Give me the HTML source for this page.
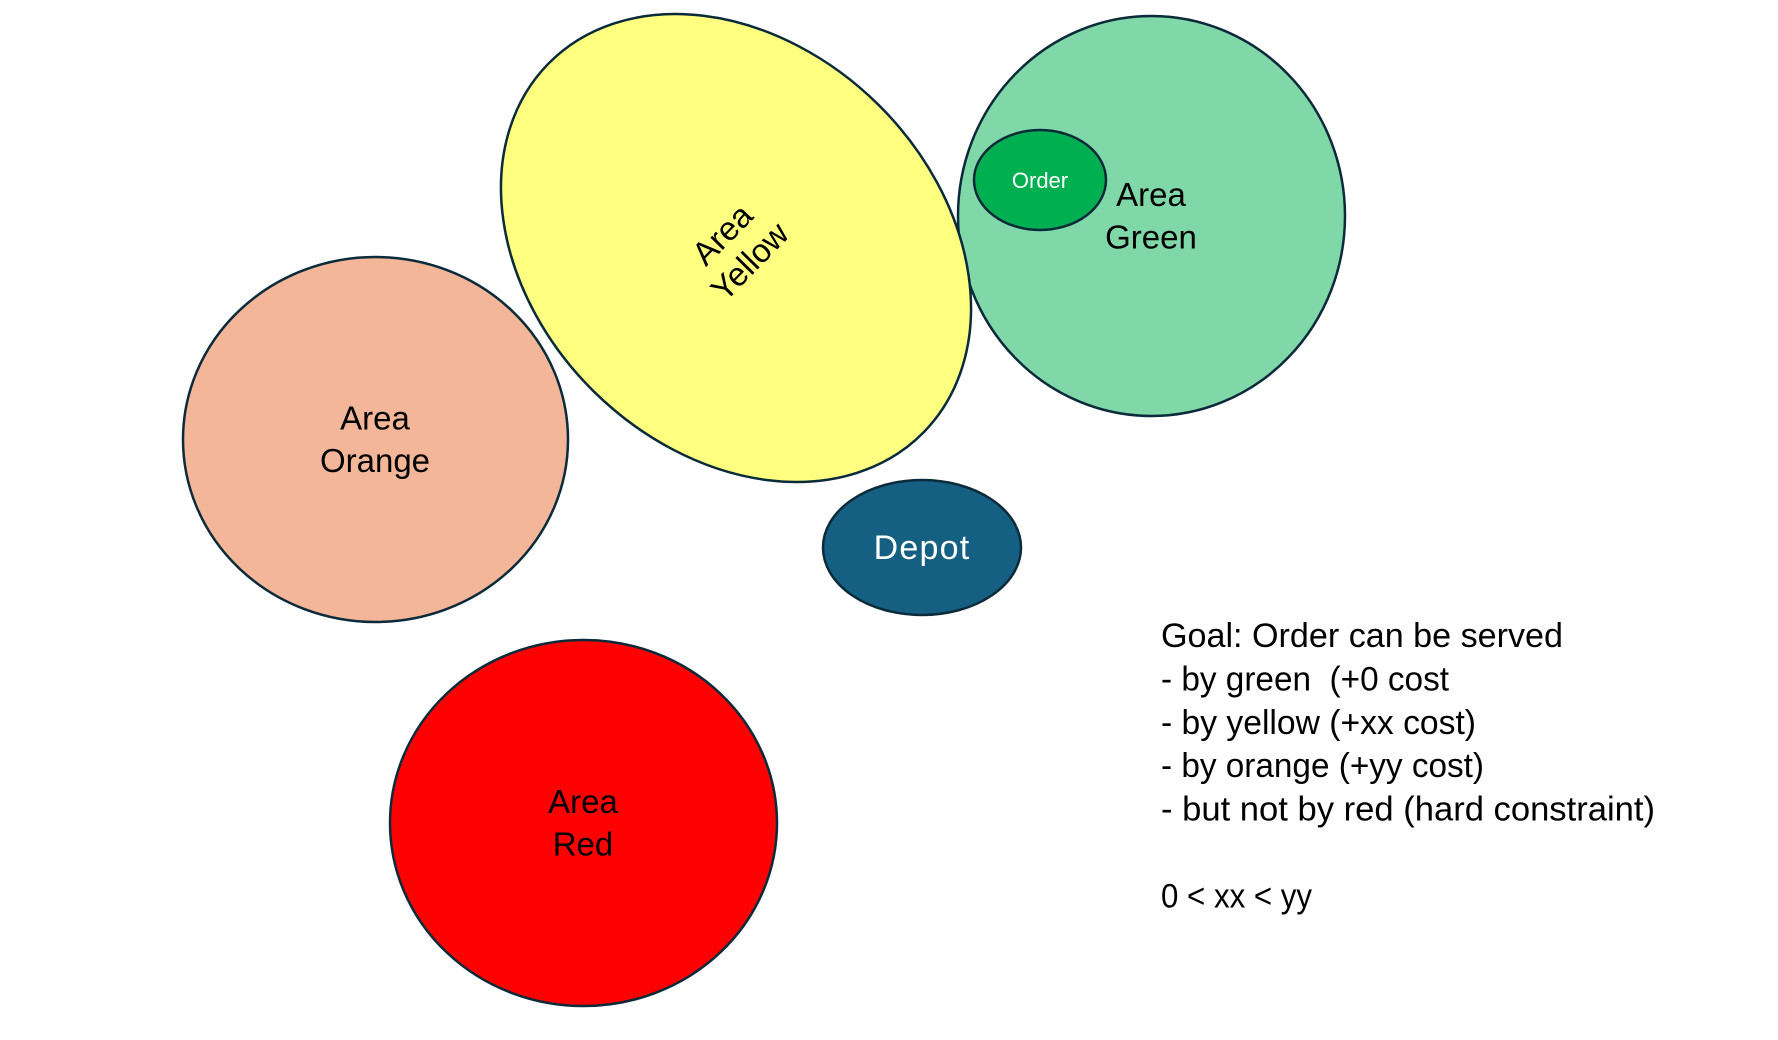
<!DOCTYPE html>
<html>
<head>
<meta charset="utf-8">
<style>
  html, body { margin: 0; padding: 0; background: #ffffff; }
  body { width: 1778px; height: 1040px; overflow: hidden; }
  svg { display: block; }
  text { font-family: "Liberation Sans", Arial, sans-serif; }
</style>
</head>
<body>
<svg width="1778" height="1040" viewBox="0 0 1778 1040" xmlns="http://www.w3.org/2000/svg">
  <rect x="0" y="0" width="1778" height="1040" fill="#ffffff"/>

  <!-- Area Green -->
  <ellipse cx="1151.5" cy="216" rx="193.5" ry="200" fill="#80D8A8" stroke="#0B2A3A" stroke-width="2.5"/>
  <text x="1151" y="206" font-size="33" fill="#000" text-anchor="middle">Area</text>
  <text x="1151" y="248.5" font-size="33" fill="#000" text-anchor="middle">Green</text>

  <!-- Order -->
  <ellipse cx="1040" cy="180" rx="66" ry="50" fill="#00B050" stroke="#0B2A3A" stroke-width="2.5"/>
  <text x="1040" y="188" font-size="22" fill="#ffffff" text-anchor="middle">Order</text>

  <!-- Area Yellow (rotated) -->
  <g transform="translate(736 248) rotate(44.5)">
    <ellipse cx="0" cy="0" rx="263" ry="202" fill="#FFFF80" stroke="#0B2A3A" stroke-width="2.5"/>
  </g>
  <g transform="translate(736 248) rotate(-45.5)">
    <text x="0" y="-8" font-size="33" fill="#000" text-anchor="middle">Area</text>
    <text x="0" y="30.5" font-size="33" fill="#000" text-anchor="middle">Yellow</text>
  </g>

  <!-- Area Orange -->
  <ellipse cx="375.5" cy="439.5" rx="192.5" ry="182.5" fill="#F3B698" stroke="#0B2A3A" stroke-width="2.5"/>
  <text x="375" y="429.5" font-size="33" fill="#000" text-anchor="middle">Area</text>
  <text x="375" y="472" font-size="33" fill="#000" text-anchor="middle">Orange</text>

  <!-- Depot -->
  <ellipse cx="922" cy="547.5" rx="99" ry="67.5" fill="#156082" stroke="#0B2A3A" stroke-width="2.5"/>
  <text x="922" y="559" font-size="34" letter-spacing="1.2" fill="#ffffff" text-anchor="middle">Depot</text>

  <!-- Area Red -->
  <ellipse cx="583.5" cy="823" rx="193.5" ry="183" fill="#FF0000" stroke="#0B2A3A" stroke-width="2.5"/>
  <text x="583" y="813" font-size="33" fill="#000" text-anchor="middle">Area</text>
  <text x="583" y="855.5" font-size="33" fill="#000" text-anchor="middle">Red</text>

  <!-- Goal text -->
  <g font-size="34.5" fill="#000" style="white-space: pre;">
    <text x="1161" y="647" textLength="402" lengthAdjust="spacingAndGlyphs">Goal: Order can be served</text>
    <text x="1161" y="690.4" xml:space="preserve" textLength="288" lengthAdjust="spacingAndGlyphs">- by green  (+0 cost</text>
    <text x="1161" y="733.8" textLength="315" lengthAdjust="spacingAndGlyphs">- by yellow (+xx cost)</text>
    <text x="1161" y="777.2" textLength="323" lengthAdjust="spacingAndGlyphs">- by orange (+yy cost)</text>
    <text x="1161" y="820.6" textLength="494" lengthAdjust="spacingAndGlyphs">- but not by red (hard constraint)</text>
    <text x="1161" y="907.4" textLength="151" lengthAdjust="spacingAndGlyphs">0 &lt; xx &lt; yy</text>
  </g>
</svg>
</body>
</html>
